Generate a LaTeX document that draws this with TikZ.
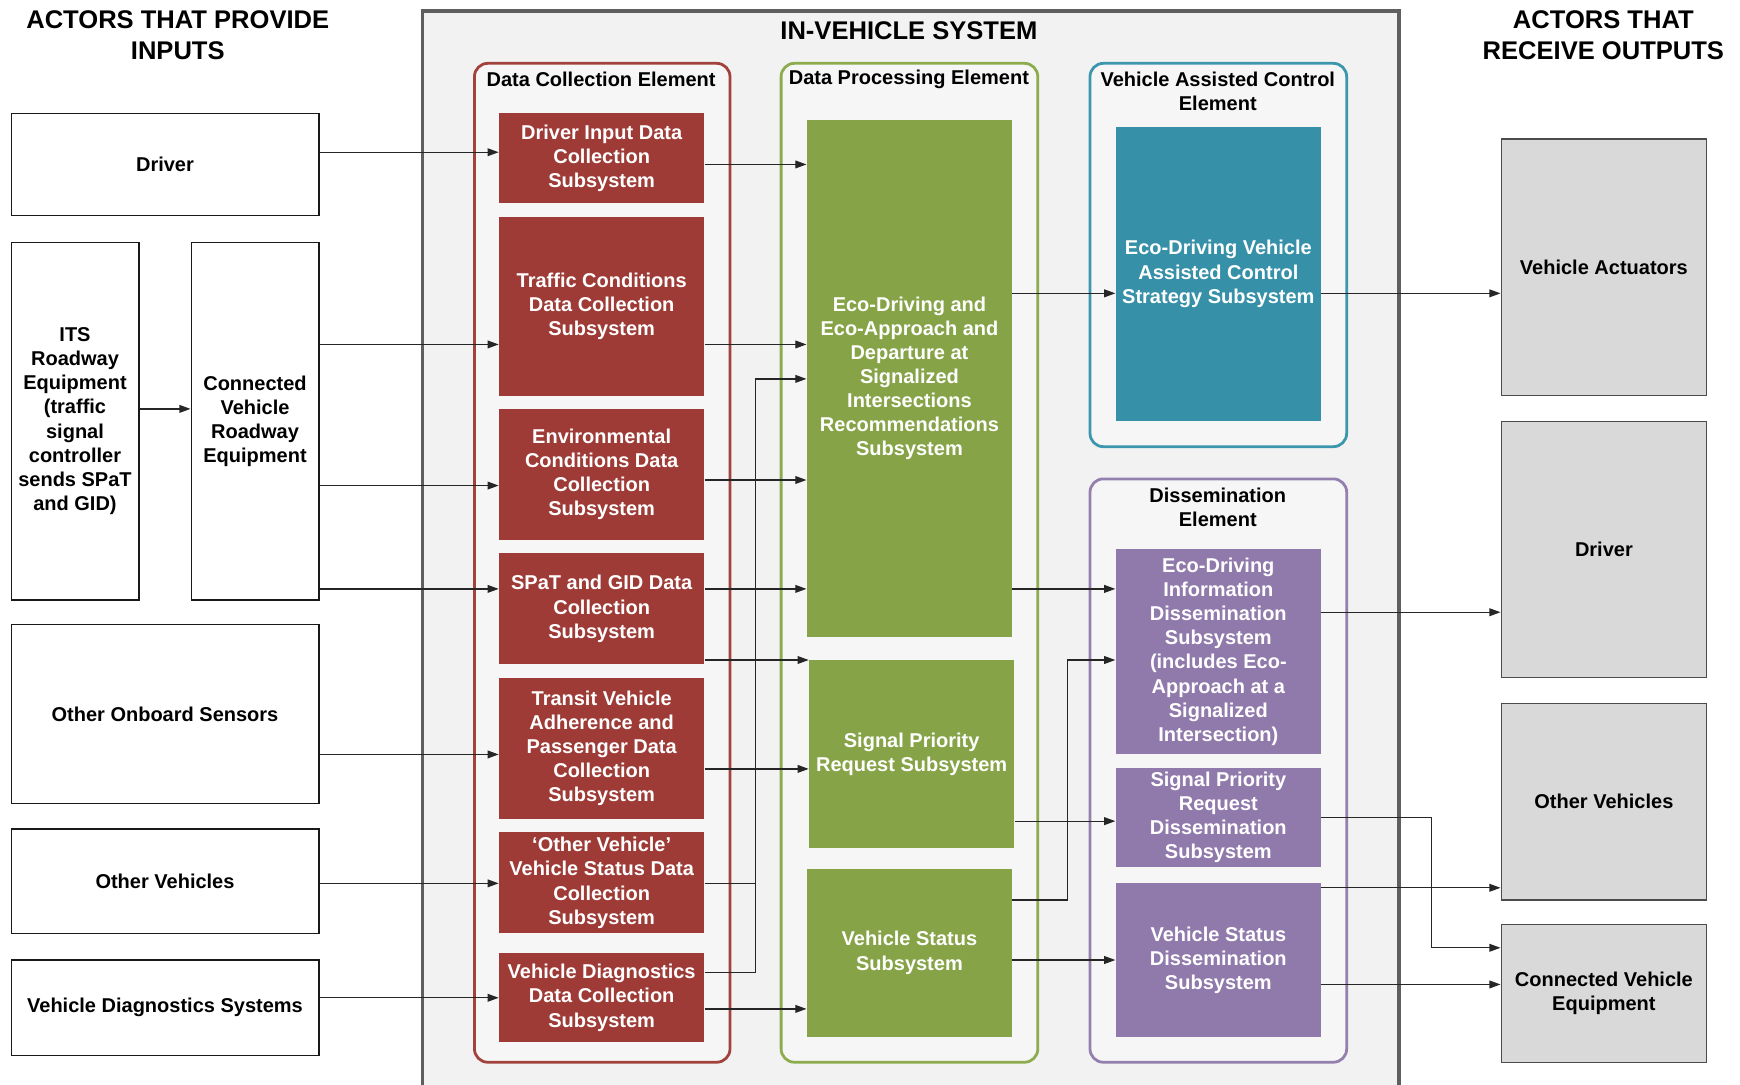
\documentclass[tikz,border=0pt]{standalone}
\usepackage{fontspec}
\setmainfont{Liberation Sans}
\usetikzlibrary{arrows.meta}
\definecolor{redbox}{HTML}{9E3B36}
\definecolor{redline}{HTML}{A2423C}
\definecolor{greenbox}{HTML}{86A447}
\definecolor{greenline}{HTML}{8CAC4E}
\definecolor{tealbox}{HTML}{3590A8}
\definecolor{tealline}{HTML}{3C96AE}
\definecolor{purplebox}{HTML}{9079AB}
\definecolor{purpleline}{HTML}{9380AE}
\definecolor{graybox}{HTML}{D9D9D9}
\definecolor{sysbg}{HTML}{F2F2F2}
\definecolor{sysline}{HTML}{5F5F5F}
\newcommand\boxfont{\fontsize{18}{21.7}\selectfont\bfseries}
\newcommand\headfont{\fontsize{23}{28}\selectfont\bfseries}
\begin{document}
\begin{tikzpicture}[x=1pt,y=-1pt,
  actorL/.style={draw=black!90, line width=1.1pt, fill=white, inner sep=0pt, align=center, font=\boxfont},
  actorR/.style={draw=black!70, line width=1.1pt, fill=graybox, inner sep=0pt, align=center, font=\boxfont, minimum width=185pt},
  sub/.style={inner sep=0pt, align=center, font=\boxfont, text=white, minimum width=185pt},
  redsub/.style={sub, fill=redbox},
  greensub/.style={sub, fill=greenbox},
  tealsub/.style={sub, fill=tealbox},
  purplesub/.style={sub, fill=purplebox},
  cont/.style={rounded corners=12pt, line width=2.5pt, fill=sysbg!70!white, inner sep=0pt},
  ctitle/.style={inner sep=0pt, align=center, font=\boxfont},
  head/.style={inner sep=0pt, align=center, font=\headfont},
  arr/.style={line width=1.1pt, draw=black!85, -{Triangle[length=10pt,width=7pt]}},
  ln/.style={line width=1.1pt, draw=black!85}
]
\useasboundingbox (0,0) rectangle (1566,975.6);
\clip (0,0) rectangle (1566,975.6);
\fill[white] (0,0) rectangle (1566,975.6);

% in-vehicle system frame
\fill[sysbg] (380,10) rectangle (1259,990);
\draw[sysline, line width=3pt] (380,990) -- (380,10) -- (1259,10) -- (1259,990);

% headings
\node[head] (hin) at (160,32) {ACTORS THAT PROVIDE\\INPUTS};
\node[head] (hsys) at (818,28) {IN-VEHICLE SYSTEM};
\node[head] (hout) at (1443,32) {ACTORS THAT\\RECEIVE OUTPUTS};

% containers
\node[cont, draw=redline, minimum width=230pt, minimum height=899pt] (dce) at (542,506.5) {};
\node[cont, draw=greenline, minimum width=231pt, minimum height=899pt] (dpe) at (818.5,506.5) {};
\node[cont, draw=tealline, minimum width=231pt, minimum height=345pt] (vace) at (1096.5,229.5) {};
\node[cont, draw=purpleline, minimum width=231pt, minimum height=525pt] (de) at (1096.5,693.5) {};
\node[ctitle] (dcet) at (541,71) {Data Collection Element};
\node[ctitle] (dpet) at (818,71) {Data Processing Element};
\node[ctitle] (vacet) at (1096,82) {Vehicle Assisted Control\\Element};
\node[ctitle] (det) at (1096,457) {Dissemination\\Element};

% input actors
\node[actorL, minimum width=277pt, minimum height=92pt] (drvL) at (148.5,148) {Driver};
\node[actorL, minimum width=115pt, minimum height=322pt] (its) at (67.5,379) {ITS\\Roadway\\Equipment\\(traffic\\signal\\controller\\sends SPaT\\and GID)};
\node[actorL, minimum width=115pt, minimum height=322pt] (cvre) at (229.5,379) {Connected\\Vehicle\\Roadway\\Equipment};
\node[actorL, minimum width=277pt, minimum height=161pt] (oos) at (148.5,642.5) {Other Onboard Sensors};
\node[actorL, minimum width=277pt, minimum height=94pt] (ovL) at (148.5,793) {Other Vehicles};
\node[actorL, minimum width=277pt, minimum height=86pt] (vds) at (148.5,907) {Vehicle Diagnostics Systems};

% data collection subsystems
\node[redsub, minimum height=81pt] (dic) at (541.5,142.5) {Driver Input Data\\Collection\\Subsystem};
\node[redsub, minimum height=161pt] (tcd) at (541.5,275.5) {Traffic Conditions\\Data Collection\\Subsystem};
\node[redsub, minimum height=118pt] (ecd) at (541.5,427) {Environmental\\Conditions Data\\Collection\\Subsystem};
\node[redsub, minimum height=100pt] (sgd) at (541.5,548) {SPaT and GID Data\\Collection\\Subsystem};
\node[redsub, minimum height=127pt] (tva) at (541.5,673.5) {Transit Vehicle\\Adherence and\\Passenger Data\\Collection\\Subsystem};
\node[redsub, minimum height=91pt] (ovd) at (541.5,794.5) {‘Other Vehicle’\\Vehicle Status Data\\Collection\\Subsystem};
\node[redsub, minimum height=80pt] (vdd) at (541.5,898) {Vehicle Diagnostics\\Data Collection\\Subsystem};

% data processing subsystems
\node[greensub, minimum height=465pt] (eco) at (818.5,340.5) {Eco-Driving and\\Eco-Approach and\\Departure at\\Signalized\\Intersections\\Recommendations\\Subsystem};
\node[greensub, minimum height=169pt] (spr) at (820.5,678.5) {Signal Priority\\Request Subsystem};
\node[greensub, minimum height=151pt] (vss) at (818.5,857.5) {Vehicle Status\\Subsystem};

% vehicle assisted control
\node[tealsub, minimum height=265pt] (vac) at (1096.5,246.5) {Eco-Driving Vehicle\\Assisted Control\\Strategy Subsystem};

% dissemination
\node[purplesub, minimum height=185pt] (edi) at (1096.5,586.5) {Eco-Driving\\Information\\Dissemination\\Subsystem\\(includes Eco-\\Approach at a\\Signalized\\Intersection)};
\node[purplesub, minimum height=89pt] (sprd) at (1096.5,735.5) {Signal Priority\\Request\\Dissemination\\Subsystem};
\node[purplesub, minimum height=138pt] (vsd) at (1096.5,864) {Vehicle Status\\Dissemination\\Subsystem};

% output actors
\node[actorR, minimum height=231pt] (va) at (1443.5,240.5) {Vehicle Actuators};
\node[actorR, minimum height=231pt] (drvR) at (1443.5,494.5) {Driver};
\node[actorR, minimum height=177pt] (ovR) at (1443.5,721.5) {Other Vehicles};
\node[actorR, minimum height=124pt] (cve) at (1443.5,894) {Connected Vehicle\\Equipment};

% bus coordinates
\coordinate (busA) at (680,0);
\coordinate (busB) at (961,0);
\coordinate (busC) at (1288,0);

% inputs -> data collection
\draw[arr] (drvL.east |- 0,137) -- (dic.west |- 0,137);
\draw[arr] (its.east |- 0,368) -- (cvre.west |- 0,368);
\draw[arr] (cvre.east |- 0,310) -- (tcd.west |- 0,310);
\draw[arr] (cvre.east |- 0,437) -- (ecd.west |- 0,437);
\draw[arr] (cvre.east |- 0,530) -- (sgd.west |- 0,530);
\draw[arr] (oos.east |- 0,679) -- (tva.west |- 0,679);
\draw[arr] (ovL.east |- 0,795) -- (ovd.west |- 0,795);
\draw[arr] (vds.east |- 0,898) -- (vdd.west |- 0,898);

% data collection -> processing
\draw[arr] (dic.east |- 0,148) -- (eco.west |- 0,148);
\draw[arr] (tcd.east |- 0,310) -- (eco.west |- 0,310);
\draw[arr] (ecd.east |- 0,432) -- (eco.west |- 0,432);
\draw[arr] (sgd.east |- 0,530) -- (eco.west |- 0,530);
\draw[arr] (sgd.east |- 0,594) -- (spr.west |- 0,594);
\draw[arr] (tva.east |- 0,692) -- (spr.west |- 0,692);
\draw[arr] (ovd.east |- 0,795) -| (busA |- 0,341) -- (eco.west |- 0,341);
\draw[ln] (vdd.east |- 0,875) -| (busA |- 0,795);
\draw[arr] (vdd.east |- 0,908) -- (vss.west |- 0,908);

% processing -> control / dissemination
\draw[arr] (eco.east |- 0,264) -- (vac.west |- 0,264);
\draw[arr] (eco.east |- 0,530) -- (edi.west |- 0,530);
\draw[arr] (spr.east |- 0,739) -- (sprd.west |- 0,739);
\draw[arr] (vss.east |- 0,810) -| (busB |- 0,594) -- (edi.west |- 0,594);
\draw[arr] (vss.east |- 0,864) -- (vsd.west |- 0,864);

% outputs
\draw[arr] (vac.east |- 0,264) -- (va.west |- 0,264);
\draw[arr] (edi.east |- 0,551) -- (drvR.west |- 0,551);
\draw[arr] (sprd.east |- 0,736) -| (busC |- 0,853) -- (cve.west |- 0,853);
\draw[arr] (vsd.east |- 0,799) -- (ovR.west |- 0,799);
\draw[arr] (vsd.east |- 0,886) -- (cve.west |- 0,886);
\end{tikzpicture}
\end{document}
